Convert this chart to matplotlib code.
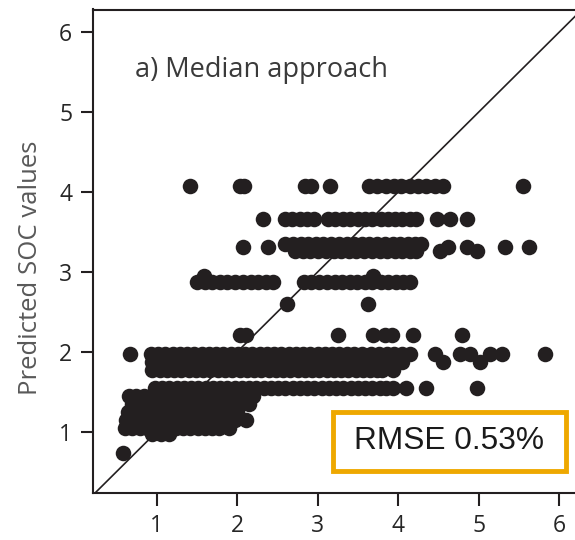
import matplotlib
matplotlib.use("Agg")
import matplotlib.pyplot as plt
from matplotlib.patches import Rectangle

y_407 = [1.42, 2.04, 2.09, 2.84, 2.92, 3.15, 3.64, 3.74, 3.85, 3.95, 4.04, 4.15, 4.25,
         4.34, 4.45, 4.55, 5.55]
y_366 = [2.32, 2.59, 2.68, 2.78, 2.87, 2.96, 3.13, 3.22, 3.31, 3.40, 3.50, 3.59, 3.68,
         3.78, 3.87, 3.96, 4.05, 4.14, 4.22, 4.48, 4.64, 4.85]
y_335 = [2.60, 2.70, 2.79, 2.88, 2.98, 3.07, 3.17, 3.26, 3.36, 3.45, 3.55, 3.64, 3.74,
         3.83, 3.93, 4.02, 4.12, 4.21, 4.28]
y_331 = [2.07, 2.38, 4.62, 4.85, 5.32, 5.62]
y_326 = [2.72, 2.82, 2.91, 3.00, 3.10, 3.20, 3.29, 3.39, 3.48, 3.58, 3.67, 3.77, 3.86,
         3.96, 4.05, 4.14, 4.22, 4.52, 4.98]
y_295 = [1.59, 3.69]
y_288 = [1.50, 1.60, 1.69, 1.79, 1.88, 1.98, 2.07, 2.17, 2.26, 2.36, 2.45, 2.83, 2.92,
         3.02, 3.11, 3.21, 3.30, 3.40, 3.49, 3.59, 3.68, 3.78, 3.87, 3.97, 4.06, 4.15]
y_260 = [2.62, 3.62]
y_221 = [2.04, 2.11, 3.25, 3.69, 3.84, 3.92, 4.18, 4.79]
y_198 = [0.67, 0.93, 1.02, 1.11, 1.20, 1.29, 1.38, 1.47, 1.56, 1.65, 1.74, 1.83, 1.92,
         2.01, 2.10, 2.19, 2.28, 2.37, 2.46, 2.55, 2.64, 2.73, 2.82, 2.91, 3.00, 3.09,
         3.18, 3.27, 3.36, 3.45, 3.55, 3.66, 3.76, 3.86, 3.95, 4.05, 4.14, 4.46, 4.77,
         4.89, 5.14, 5.29, 5.82]
y_188 = [0.95, 1.04, 1.13, 1.22, 1.31, 1.40, 1.49, 1.58, 1.67, 1.76, 1.85, 1.94, 2.03,
         2.12, 2.21, 2.30, 2.39, 2.48, 2.57, 2.66, 2.75, 2.84, 2.93, 3.02, 3.11, 3.20,
         3.29, 3.38, 3.47, 3.56, 3.65, 3.74, 3.85, 3.95, 4.05, 4.55, 5.01]
y_177 = [0.95, 1.04, 1.13, 1.22, 1.31, 1.40, 1.49, 1.58, 1.67, 1.76, 1.85, 1.94, 2.03,
         2.12, 2.21, 2.30, 2.39, 2.48, 2.57, 2.66, 2.75, 2.84, 2.93, 3.02, 3.11, 3.20,
         3.29, 3.38, 3.47, 3.56, 3.65, 3.74, 3.80, 3.94]
y_155 = [0.98, 1.07, 1.16, 1.25, 1.34, 1.43, 1.52, 1.61, 1.70, 1.79, 1.88, 1.97, 2.06,
         2.15, 2.24, 2.33, 2.42, 2.51, 2.60, 2.69, 2.78, 2.87, 2.96, 3.05, 3.14, 3.23,
         3.32, 3.41, 3.50, 3.59, 3.68, 3.77, 3.85, 3.93, 4.10, 4.35, 4.98]
y_145 = [0.66, 0.75, 0.84, 0.93, 1.02, 1.11, 1.20, 1.29, 1.38, 1.47, 1.56, 1.65, 1.74,
         1.83, 1.92, 2.01, 2.10, 2.20]
y_135 = [0.70, 0.79, 0.88, 0.97, 1.06, 1.15, 1.24, 1.33, 1.42, 1.51, 1.60, 1.69, 1.78,
         1.87, 1.96, 2.05, 2.15]
y_125 = [0.65, 0.74, 0.83, 0.92, 1.01, 1.10, 1.19, 1.28, 1.37, 1.46, 1.55, 1.64, 1.73,
         1.82, 1.91, 2.00]
y_115 = [0.62, 0.71, 0.80, 0.89, 0.98, 1.07, 1.16, 1.25, 1.34, 1.43, 1.52, 1.61, 1.70,
         1.79, 1.88, 1.97, 2.11]
y_105 = [0.61, 0.70, 0.79, 0.88, 0.97, 1.06, 1.15, 1.24, 1.33, 1.42, 1.51, 1.60, 1.69,
         1.78, 1.90]
y_097 = [0.95, 1.05, 1.15]
y_074 = [0.58]

rows = [(4.07, y_407), (3.66, y_366), (3.35, y_335), (3.31, y_331), (3.26, y_326),
        (2.95, y_295), (2.88, y_288), (2.60, y_260), (2.21, y_221), (1.98, y_198),
        (1.88, y_188), (1.77, y_177), (1.55, y_155), (1.45, y_145), (1.35, y_135),
        (1.25, y_125), (1.15, y_115), (1.05, y_105), (0.97, y_097), (0.74, y_074)]

x_ticks = [1, 2, 3, 4, 5, 6]
y_ticks = [1, 2, 3, 4, 5, 6]
title_text = "a) Median approach"
ylabel_text = "Predicted SOC values"
rmse_text = "RMSE 0.53%"

W, H = 575, 540
fig = plt.figure(figsize=(W / 100, H / 100), dpi=100)
fig.patch.set_facecolor("white")
ax = fig.add_axes([93 / W, (H - 493) / H, (582 - 93) / W, (493 - 9.5) / H])

xs, ys = [], []
for yv, xl in rows:
    xs.extend(xl)
    ys.extend([yv] * len(xl))
ax.scatter(xs, ys, s=125, c="#231f20", linewidths=0, zorder=3)

ax.plot([0, 7], [0, 7], color="#231f20", lw=1.2, zorder=2)

ax.set_xlim(0.212, 6.28)
ax.set_ylim(0.2375, 6.28)
ax.set_xticks(x_ticks)
ax.set_yticks(y_ticks)
font = "Open Sans"
ax.tick_params(axis="both", direction="out", length=9, width=1.5, colors="#231f20",
               labelsize=16.5, pad=6, labelcolor="#262626")
for lab in ax.get_xticklabels() + ax.get_yticklabels():
    lab.set_fontfamily(font)
for sp in ax.spines.values():
    sp.set_linewidth(1.5)
    sp.set_color("#231f20")

ax.text(0.73, 5.53, title_text, fontsize=19.5, fontfamily=font, color="#3a3a3a",
        va="center", ha="left")
fig.text(31 / W, 1 - 268 / H, ylabel_text, rotation=90, fontsize=18.5, fontfamily=font,
         color="#595959", va="center", ha="center")

fig.patches.append(Rectangle((333 / W, 1 - 471 / H), (566 - 333) / W, (471 - 412) / H,
                             transform=fig.transFigure, fill=True, facecolor="white",
                             edgecolor="#eea800", linewidth=3.5, zorder=5))
fig.text(449 / W, 1 - 441 / H, rmse_text, fontsize=22.8, fontfamily="Liberation Sans",
         color="#1a1a1a", va="center", ha="center", zorder=6)

fig.savefig("out.png", dpi=100)
